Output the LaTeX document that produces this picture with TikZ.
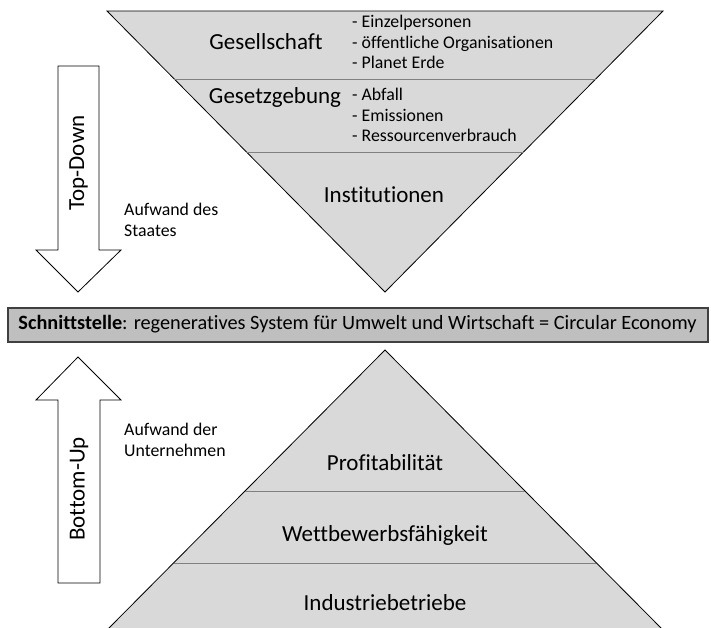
\documentclass[tikz,border=0pt]{standalone}
\usepackage{fontspec}
\setmainfont{Carlito}[Ligatures=NoCommon]
\usetikzlibrary{positioning,calc}
\definecolor{layergray}{RGB}{217,217,217}
\definecolor{boxgray}{RGB}{191,191,191}
\definecolor{edgegray}{RGB}{64,64,64}
\definecolor{splitgray}{RGB}{128,128,128}

\tikzset{
  layer/.style={fill=layergray, draw=black, line width=0.8pt},
  split/.style={draw=splitgray, line width=0.8pt},
  bigarrow/.style={fill=white, draw=black, line width=0.8pt},
  biglabel/.style={font=\fontsize{23}{27}\selectfont},
  smalllabel/.style={font=\fontsize{17.8}{20.5}\selectfont, align=left, inner sep=0pt},
}

\begin{document}
\begin{tikzpicture}[x=1pt, y=-1pt]
  \useasboundingbox (0,0) rectangle (711,627);

  % top: inverted pyramid
  \draw[layer] (107,11) -- (663,11) -- (385,292) -- cycle;
  \draw[split] (174,79) -- (596,79);
  \draw[split] (246,152) -- (524,152);

  \node[biglabel] (gesellschaft) at (266,42) {Gesellschaft};
  \node[smalllabel, anchor=west] (gesellschaftlist) at (352,42)
       {- Einzelpersonen\\- öffentliche Organisationen\\- Planet Erde};
  \node[biglabel] (gesetzgebung) at (275,97) {Gesetzgebung};
  \node[smalllabel, anchor=north west] (gesetzlist) at (352,88)
       {- Abfall\\- Emissionen\\- Ressourcenverbrauch};
  \node[biglabel] (institutionen) at (384,195) {Institutionen};

  % interface bar
  \node[draw=edgegray, line width=2pt, fill=boxgray, minimum width=700pt,
        minimum height=34pt, font=\fontsize{20.3}{24}\selectfont] (schnittstelle) at (357.5,324.5)
       {\textbf{Schnittstelle}: regeneratives System für Umwelt und Wirtschaft = Circular Economy};

  % bottom: pyramid
  \draw[layer] (385,350) -- (664,631) -- (106,631) -- cycle;
  \draw[split] (245,491) -- (525,491);
  \draw[split] (174,563) -- (596,563);

  \node[biglabel] (profit) at (385,463) {Profitabilität};
  \node[biglabel] (wettbewerb) at (385,535) {Wettbewerbsfähigkeit};
  \node[biglabel] (industrie) at (385,603) {Industriebetriebe};

  % arrows
  \draw[bigarrow] (58,66) -- (99,66) -- (99,250) -- (121,250) -- (78,292)
                  -- (36,250) -- (58,250) -- cycle;
  \node[biglabel, rotate=90] (topdown) at (78.5,163) {Top-Down};
  \node[smalllabel] (staat) at (124,220) [anchor=west] {Aufwand des\\Staates};

  \draw[bigarrow] (58,583) -- (100,583) -- (100,400) -- (121,400) -- (78,357)
                  -- (36,400) -- (58,400) -- cycle;
  \node[biglabel, rotate=90] (bottomup) at (79,489) {Bottom-Up};
  \node[smalllabel] (unternehmen) at (124,440) [anchor=west] {Aufwand der\\Unternehmen};
\end{tikzpicture}
\end{document}
